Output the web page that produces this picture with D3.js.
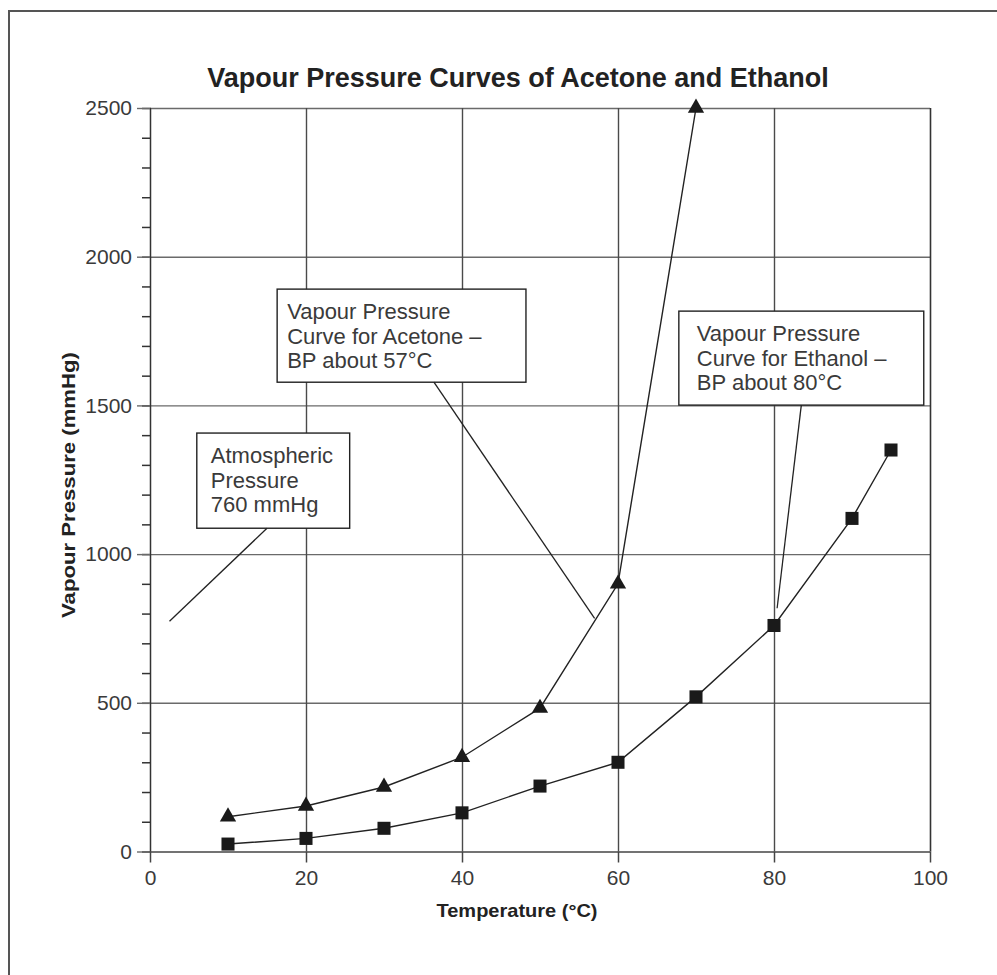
<!DOCTYPE html>
<html lang="en">
<head>
    <meta charset="utf-8">
    <title>Vapour Pressure Curves of Acetone and Ethanol</title>
    <script src="https://d3js.org/d3.v7.min.js" charset="utf-8"></script>
    <style>
        body{
            margin: 0;
            background: #fff;
        }
        svg text{
            font-family: "Liberation Sans", Arial, sans-serif;
        }
        .grid line{ stroke: #6a6a6a; stroke-width: 1.4; }
        .grid path{ display: none; }
        .axis path, .axis line{ stroke: #333; stroke-width: 1.5; }
        .axis text{ font-size: 21px; fill: #3a3a3a; }
        .series{ fill: none; stroke: #222; stroke-width: 1.4; }
        .note rect{ fill: #fff; stroke: #222; stroke-width: 1.4; }
        .note text{ font-size: 22px; fill: #3a3a3a; }
        .leader{ stroke: #222; stroke-width: 1.3; }
    </style>
</head>
<body>
<div class="chart"></div>

<script>
    // values
    var acetoneTemps = [10, 20, 30, 40, 50, 60, 70];
    var acetoneP     = [117, 153, 217, 317, 482, 900, 2500];
    var ethanolTemps = [10, 20, 30, 40, 50, 60, 70, 80, 90, 95];
    var ethanolP     = [25, 44, 78, 130, 220, 300, 520, 760, 1120, 1350];

    var xTicks = [0, 20, 40, 60, 80, 100];
    var yTicks = [0, 500, 1000, 1500, 2000, 2500];
    var yMinor = d3.range(0, 2501, 100);

    // annotation boxes, in data units (temperature, mmHg)
    var noteText = [
        ["Atmospheric", "Pressure", "760 mmHg"],
        ["Vapour Pressure", "Curve for Acetone \u2013", "BP about 57\u00b0C"],
        ["Vapour Pressure", "Curve for Ethanol \u2013", "BP about 80\u00b0C"]
    ];
    var noteX0 = [6.0, 16.3, 67.8];
    var noteX1 = [25.6, 48.2, 99.2];
    var noteY0 = [1407, 1891, 1817];
    var noteY1 = [1087, 1578, 1501];
    var leaderFrom = [[15, 1087], [36.4, 1578], [83.5, 1501]];
    var leaderTo   = [[2.5, 774], [57, 784], [80.4, 818]];
    var notePad = [14, 10, 18];

    var width = 997;
    var height = 975;

    var svg = d3.select("div.chart")
        .append("svg")
        .attr("width", width)
        .attr("height", height);

    // outer frame (right/bottom edges fall outside the picture)
    svg.append("rect")
        .attr("x", 9).attr("y", 11)
        .attr("width", 1000).attr("height", 1000)
        .style("fill", "none")
        .style("stroke", "#555")
        .style("stroke-width", 2);

    var x = d3.scaleLinear().domain([0, 100]).range([150, 930]);
    var y = d3.scaleLinear().domain([0, 2500]).range([851.5, 108]);

    // horizontal grid, sticking out a bit left of the axis
    svg.append("g")
        .attr("class", "grid")
        .attr("transform", "translate(" + x(0) + ",0)")
        .call(d3.axisLeft(y).tickValues(yTicks).tickFormat("")
            .tickSize(-(x(100) - x(0))).tickSizeOuter(0));

    // vertical grid
    svg.append("g")
        .attr("class", "grid vgrid")
        .attr("transform", "translate(0," + y(0) + ")")
        .call(d3.axisBottom(x).tickValues(xTicks.slice(1)).tickFormat("")
            .tickSize(-(y(0) - y(2500))).tickSizeOuter(0));
    svg.selectAll(".vgrid line").style("stroke", "#4a4a4a");
    svg.selectAll(".vgrid .tick:last-of-type line").style("stroke", "#333").style("stroke-width", 1.6);

    // minor y ticks
    svg.append("g")
        .attr("class", "axis")
        .attr("transform", "translate(" + (x(0) + 1) + ",0)")
        .call(d3.axisLeft(y).tickValues(yMinor).tickFormat("").tickSize(9).tickSizeOuter(0))
        .select(".domain").remove();

    // y axis with labels
    var yAxis = svg.append("g")
        .attr("class", "axis")
        .attr("transform", "translate(" + x(0) + ",0)")
        .call(d3.axisLeft(y).tickValues(yTicks).tickFormat(d3.format("d"))
            .tickSize(13).tickSizeOuter(0).tickPadding(5));
    yAxis.selectAll("line").style("stroke", "#6a6a6a").style("stroke-width", 1.4);

    // x axis
    var xAxis = svg.append("g")
        .attr("class", "axis")
        .attr("transform", "translate(0," + y(0) + ")")
        .call(d3.axisBottom(x).tickValues(xTicks).tickFormat(d3.format("d"))
            .tickSize(11).tickSizeOuter(0).tickPadding(8));
    xAxis.select(".domain").style("stroke", "#6a6a6a").style("stroke-width", 1.4);
    xAxis.selectAll("line").style("stroke", "#444");

    // annotations
    var notes = svg.append("g").selectAll("g.note")
        .data(noteText)
        .enter()
        .append("g")
        .attr("class", "note");

    notes.append("rect")
        .attr("x", function(d, i){ return x(noteX0[i]); })
        .attr("y", function(d, i){ return y(noteY0[i]); })
        .attr("width", function(d, i){ return x(noteX1[i]) - x(noteX0[i]); })
        .attr("height", function(d, i){ return y(noteY1[i]) - y(noteY0[i]); });

    notes.each(function(lines, i){
        d3.select(this).selectAll("text")
            .data(lines)
            .enter()
            .append("text")
            .attr("x", x(noteX0[i]) + notePad[i])
            .attr("y", function(d, j){ return y(noteY0[i]) + 30 + j * 24.5; })
            .text(function(d){ return d; });
    });

    svg.append("g").selectAll("line")
        .data(leaderFrom)
        .enter()
        .append("line")
        .attr("class", "leader")
        .attr("x1", function(d){ return x(d[0]); })
        .attr("y1", function(d){ return y(d[1]); })
        .attr("x2", function(d, i){ return x(leaderTo[i][0]); })
        .attr("y2", function(d, i){ return y(leaderTo[i][1]); });

    // curves
    var line = d3.line()
        .x(function(d){ return x(d[0]); })
        .y(function(d){ return y(d[1]); });

    var acetone = d3.zip(acetoneTemps, acetoneP);
    var ethanol = d3.zip(ethanolTemps, ethanolP);

    svg.append("path").attr("class", "series").attr("d", line(acetone));
    svg.append("path").attr("class", "series").attr("d", line(ethanol));

    svg.append("g").selectAll("path")
        .data(acetone)
        .enter()
        .append("path")
        .attr("transform", function(d){ return "translate(" + x(d[0]) + "," + y(d[1]) + ")"; })
        .attr("d", d3.symbol().type(d3.symbolTriangle).size(115))
        .style("fill", "#1a1a1a");

    svg.append("g").selectAll("path")
        .data(ethanol)
        .enter()
        .append("path")
        .attr("transform", function(d){ return "translate(" + x(d[0]) + "," + y(d[1]) + ")"; })
        .attr("d", d3.symbol().type(d3.symbolSquare).size(170))
        .style("fill", "#1a1a1a");

    // titles
    svg.append("text")
        .attr("x", 518).attr("y", 87)
        .attr("text-anchor", "middle")
        .style("font-size", "27px")
        .style("font-weight", "bold")
        .style("fill", "#222")
        .text("Vapour Pressure Curves of Acetone and Ethanol");

    svg.append("text")
        .attr("x", 517).attr("y", 917)
        .attr("text-anchor", "middle")
        .attr("textLength", 161)
        .attr("lengthAdjust", "spacingAndGlyphs")
        .style("font-size", "19px")
        .style("font-weight", "bold")
        .style("fill", "#222")
        .text("Temperature (\u00b0C)");

    svg.append("text")
        .attr("transform", "translate(75,485) rotate(-90)")
        .attr("text-anchor", "middle")
        .attr("textLength", 266)
        .attr("lengthAdjust", "spacingAndGlyphs")
        .style("font-size", "19px")
        .style("font-weight", "bold")
        .style("fill", "#222")
        .text("Vapour Pressure (mmHg)");
</script>
</body>
</html>
